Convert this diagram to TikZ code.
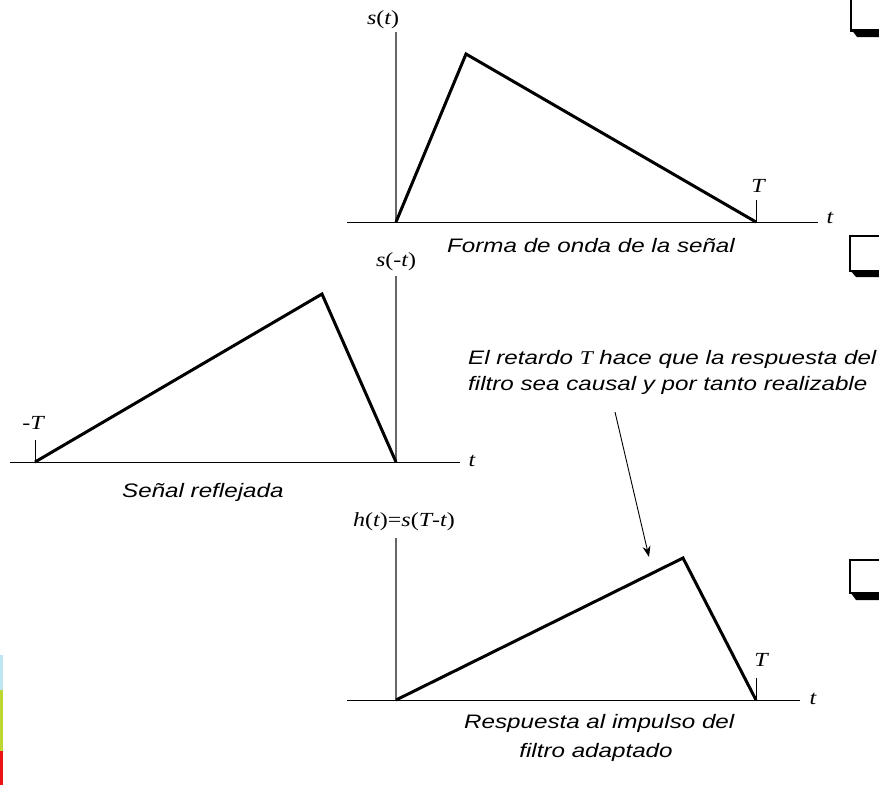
\documentclass[tikz,border=0pt]{standalone}
\usepackage{fontspec}
\setmainfont{Liberation Serif}
\newfontfamily\capfont[FakeStretch=1.24]{Liberation Sans}
\newfontfamily\labfont[FakeStretch=1.2]{Liberation Serif}
\newcommand\up[1]{{\upshape #1}}
\usetikzlibrary{arrows.meta}
\definecolor{barblue}{RGB}{190,230,242}
\definecolor{bargreen}{RGB}{190,215,50}
\definecolor{barred}{RGB}{235,20,20}
\tikzset{
  axisx/.style={black, line width=0.9pt},
  axisy/.style={gray!80!black, line width=1.2pt},
  sig/.style={black, line width=3pt, line join=miter},
  tickline/.style={black, line width=0.9pt},
  captext/.style={font=\capfont\itshape\fontsize{19.5}{26}\selectfont, inner sep=0pt},
  mlab/.style={font=\labfont\itshape\fontsize{20}{22}\selectfont, inner sep=1pt},
  pointer/.style={black, line width=0.9pt, -{Stealth[length=11pt,width=8pt]}},
}
\begin{document}
\begin{tikzpicture}[x=1pt,y=-1pt]
\useasboundingbox (0,0) rectangle (879,785);
% colour bar at the left
\fill[barblue] (0,655) rectangle (3,690);
\fill[bargreen] (0,690) rectangle (3,751);
\fill[barred] (0,751) rectangle (3,785);
% corner boxes at the right
\draw[line width=1.6pt] (851,-2) -- (851,31) -- (879,31);
\fill (851,29) -- (879,29) -- (879,37) -- (857,37) -- cycle;
\draw[line width=1.6pt] (879,236) -- (850,236) -- (850,271) -- (879,271);
\fill (850,270) -- (879,270) -- (879,277) -- (856,277) -- cycle;
\draw[line width=1.6pt] (879,560) -- (850,560) -- (850,593) -- (879,593);
\fill (850,592) -- (879,592) -- (879,600) -- (856,600) -- cycle;

% ---- graph 1
\coordinate (o1) at (396,222);
\coordinate (p1) at (466,54);
\coordinate (e1) at (756,222);
\draw[axisy] (396,32) -- (o1);
\draw[axisx] (347,222) -- (818,222);
\draw[tickline] (756,200) -- (e1);
\draw[sig] (o1) -- (p1) -- (e1);
\node[mlab] (s1) at (383,20) {s\up{(}t\up{)}};
\node[mlab] (t1) at (830,218) {t};
\node[mlab] (T1) at (758,186) {T};
\node[captext, anchor=base west] (c1) at (447,252) {Forma de onda de la señal};

% ---- graph 2
\coordinate (o2) at (396,462);
\coordinate (p2) at (322,294);
\coordinate (e2) at (35,462);
\draw[axisy] (396,276) -- (o2);
\draw[axisx] (10,462) -- (460,462);
\draw[tickline] (35,440) -- (e2);
\draw[sig] (e2) -- (p2) -- (o2);
\node[mlab] (s2) at (396,262) {s\up{(-}t\up{)}};
\node[mlab] (t2) at (472,461) {t};
\node[mlab] (T2) at (33,423) {\up{-}T};
\node[captext, anchor=base west] (c2) at (122,497) {Señal reflejada};

% ---- annotation
\node[captext, anchor=base west] (ann1) at (468,364)
  {El retardo {\labfont\itshape T} hace que la respuesta del};
\node[captext, anchor=base west] (ann2) at (468,390)
  {filtro sea causal y por tanto realizable};
\coordinate (a0) at (615,412);
\coordinate (a1) at (649,557);
\draw[pointer] (a0) -- (a1);

% ---- graph 3
\coordinate (o3) at (396,700);
\coordinate (p3) at (683,558);
\coordinate (e3) at (756,700);
\draw[axisy] (396,538) -- (o3);
\draw[axisx] (347,700) -- (800,700);
\draw[tickline] (756,678) -- (e3);
\draw[sig] (o3) -- (p3) -- (e3);
\node[mlab] (s3) at (404,522) {h\up{(}t\up{)=}s\up{(}T\up{-}t\up{)}};
\node[mlab] (t3) at (813,699) {t};
\node[mlab] (T3) at (761,660) {T};
\node[captext, anchor=base west] (c3a) at (464,728) {Respuesta al impulso del};
\node[captext, anchor=base] (c3b) at (596,757) {filtro adaptado};
\end{tikzpicture}
\end{document}
